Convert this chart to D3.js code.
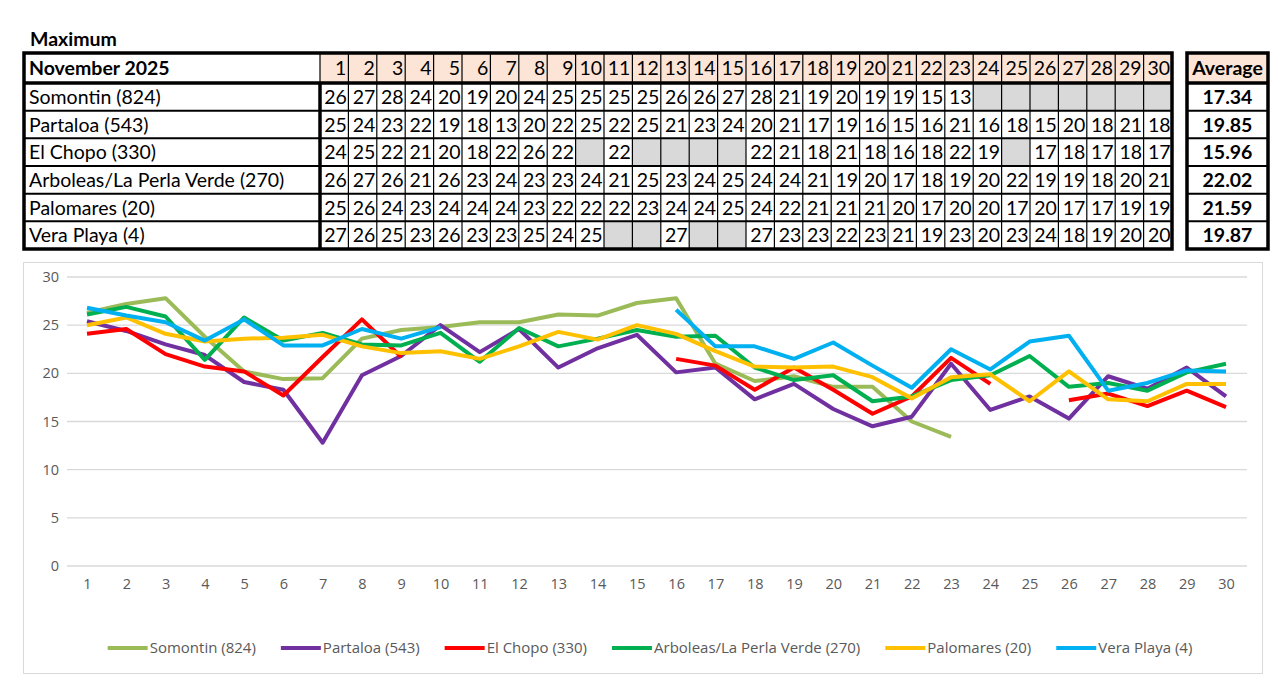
<!DOCTYPE html>
<html><head><meta charset="utf-8">
<script src="https://cdn.jsdelivr.net/npm/d3@7"></script>
<style>body{margin:0;background:#fff}svg{display:block}</style>
</head><body>
<svg id="c" width="1280" height="695"></svg>
<script>
const title = "Maximum";
const monthLabel = "November 2025";
const days = d3.range(1, 31);
const stations = ["Somontin (824)", "Partaloa (543)", "El Chopo (330)", "Arboleas/La Perla Verde (270)", "Palomares (20)", "Vera Playa (4)"];
const colors = ["#9BBB59", "#7030A0", "#FF0000", "#00B050", "#FFC000", "#00B0F0"];
const averages = ["17.34", "19.85", "15.96", "22.02", "21.59", "19.87"];
const yTicks = [0, 5, 10, 15, 20, 25, 30];
const N = null;
const somontin = [26.3,27.2,27.8,23.8,20.2,19.4,19.5,23.6,24.5,24.8,25.3,25.3,26.1,26.0,27.3,27.8,21.0,19.2,19.7,18.6,18.6,15.0,13.4,N,N,N,N,N,N,N];
const partaloa = [25.4,24.4,23.0,21.9,19.1,18.3,12.8,19.8,21.8,25.0,22.2,24.6,20.6,22.6,24.0,20.1,20.6,17.3,18.9,16.3,14.5,15.5,21.0,16.2,17.6,15.3,19.7,18.4,20.6,17.6];
const elChopo = [24.1,24.6,22.0,20.7,20.2,17.7,21.7,25.6,21.7,N,22.0,N,N,N,N,21.5,20.8,18.3,20.6,18.3,15.8,17.6,21.6,18.9,N,17.2,17.9,16.6,18.2,16.5];
const arboleas = [26.1,26.9,25.9,21.4,25.8,23.4,24.2,23.0,22.9,24.2,21.2,24.7,22.8,23.6,24.5,23.8,23.9,20.6,19.3,19.8,17.1,17.6,19.3,19.8,21.8,18.6,19.0,18.2,20.1,21.0];
const palomares = [25.0,25.8,24.1,23.3,23.6,23.7,24.0,22.8,22.1,22.3,21.5,22.8,24.3,23.5,25.0,24.1,22.3,20.7,20.6,20.7,19.6,17.4,19.6,19.9,17.1,20.2,17.3,17.1,18.9,18.9];
const veraPlaya = [26.8,26.0,25.3,23.4,25.6,22.9,22.9,24.6,23.6,24.8,N,N,27.0,N,N,26.6,22.8,22.8,21.5,23.2,20.8,18.5,22.5,20.4,23.3,23.9,18.2,19.0,20.3,20.2];
const series = [somontin, partaloa, elChopo, arboleas, palomares, veraPlaya];

const svg = d3.select("#c");
const FONT = "Lato, 'Open Sans', sans-serif";
const FS = 19.5;

// ---------- TABLE ----------
const T = {x0: 24, x1: 1172, y0: 53, yh: 83, y1: 249, xc: 320};
svg.append("text").attr("x", 30).attr("y", 46).attr("font-family", FONT).attr("font-weight", 700)
  .attr("font-size", FS).text(title);

const colX = d3.scaleBand().domain(days).range([T.xc, T.x1]);
const rowY = d3.scaleBand().domain(stations).range([T.yh, T.y1]);
const tg = svg.append("g");

tg.selectAll("rect.h").data(days).join("rect")
  .attr("x", d => colX(d)).attr("y", T.y0).attr("width", colX.bandwidth()).attr("height", T.yh - T.y0)
  .attr("fill", "#FCE4D6");
stations.forEach((s, i) => {
  tg.selectAll(null).data(days.filter((d, j) => series[i][j] === null)).join("rect")
    .attr("x", d => colX(d)).attr("y", rowY(s)).attr("width", colX.bandwidth()).attr("height", rowY.bandwidth())
    .attr("fill", "#D9D9D9");
});
tg.selectAll("line.v").data(days.slice(1)).join("line")
  .attr("x1", d => colX(d)).attr("x2", d => colX(d)).attr("y1", T.y0).attr("y2", T.y1)
  .attr("stroke", "#000").attr("stroke-width", 1.2);
tg.selectAll("line.r").data(stations.slice(1)).join("line")
  .attr("x1", T.x0).attr("x2", T.x1).attr("y1", d => rowY(d)).attr("y2", d => rowY(d))
  .attr("stroke", "#000").attr("stroke-width", 2);
tg.append("line").attr("x1", T.x0).attr("x2", T.x1).attr("y1", T.yh).attr("y2", T.yh).attr("stroke", "#000").attr("stroke-width", 3.5);
tg.append("line").attr("x1", T.xc).attr("x2", T.xc).attr("y1", T.y0).attr("y2", T.yh).attr("stroke", "#000").attr("stroke-width", 1.2);
tg.append("line").attr("x1", T.xc).attr("x2", T.xc).attr("y1", T.yh).attr("y2", T.y1).attr("stroke", "#000").attr("stroke-width", 3.5);
tg.append("rect").attr("x", T.x0).attr("y", T.y0).attr("width", T.x1 - T.x0).attr("height", T.y1 - T.y0)
  .attr("fill", "none").attr("stroke", "#000").attr("stroke-width", 3.5);

tg.append("text").attr("x", T.x0 + 5).attr("y", (T.y0 + T.yh) / 2 + 7).attr("font-family", FONT)
  .attr("font-weight", 700).attr("font-size", FS).text(monthLabel);
tg.selectAll("text.d").data(days).join("text")
  .attr("x", d => colX(d) + colX.bandwidth() - 2).attr("y", (T.y0 + T.yh) / 2 + 7)
  .attr("text-anchor", "end").attr("font-family", FONT).attr("font-size", FS).text(d => d);
stations.forEach((s, i) => {
  const cy = rowY(s) + rowY.bandwidth() / 2 + 7;
  tg.append("text").attr("x", T.x0 + 5).attr("y", cy).attr("font-family", FONT).attr("font-size", FS).text(s);
  tg.selectAll(null).data(days.filter((d, j) => series[i][j] !== null)).join("text")
    .attr("x", d => colX(d) + colX.bandwidth() - 1.5).attr("y", cy)
    .attr("text-anchor", "end").attr("font-family", FONT).attr("font-size", FS)
    .text(d => Math.round(series[i][d - 1]));
});

// Average box
const A = {x0: 1187, x1: 1268};
const ag = svg.append("g");
ag.append("rect").attr("x", A.x0).attr("y", T.y0).attr("width", A.x1 - A.x0).attr("height", T.yh - T.y0).attr("fill", "#FCE4D6");
ag.selectAll("line.r").data(stations.slice(1)).join("line")
  .attr("x1", A.x0).attr("x2", A.x1).attr("y1", d => rowY(d)).attr("y2", d => rowY(d))
  .attr("stroke", "#000").attr("stroke-width", 2);
ag.append("line").attr("x1", A.x0).attr("x2", A.x1).attr("y1", T.yh).attr("y2", T.yh).attr("stroke", "#000").attr("stroke-width", 3.5);
ag.append("rect").attr("x", A.x0).attr("y", T.y0).attr("width", A.x1 - A.x0).attr("height", T.y1 - T.y0)
  .attr("fill", "none").attr("stroke", "#000").attr("stroke-width", 3.5);
ag.append("text").attr("x", (A.x0 + A.x1) / 2).attr("y", (T.y0 + T.yh) / 2 + 7).attr("text-anchor", "middle")
  .attr("font-family", FONT).attr("font-weight", 700).attr("font-size", FS).text("Average");
ag.selectAll("text.v").data(stations).join("text")
  .attr("x", (A.x0 + A.x1) / 2).attr("y", d => rowY(d) + rowY.bandwidth() / 2 + 7).attr("text-anchor", "middle")
  .attr("font-family", FONT).attr("font-weight", 700).attr("font-size", FS).text((d, i) => averages[i]);

// ---------- CHART ----------
svg.append("rect").attr("x", 23.5).attr("y", 262.5).attr("width", 1239).attr("height", 411)
  .attr("fill", "#fff").attr("stroke", "#D9D9D9").attr("stroke-width", 1);

const x = d3.scalePoint().domain(days).range([87, 1226]);
const y = d3.scaleLinear().domain([0, 30]).range([566, 277]);
const cg = svg.append("g");
cg.selectAll("line.g").data(yTicks).join("line")
  .attr("x1", 67).attr("x2", 1247).attr("y1", d => y(d)).attr("y2", d => y(d))
  .attr("stroke", "#D9D9D9").attr("stroke-width", 1.3);

const yAxis = d3.axisLeft(y).tickValues(yTicks).tickSize(0).tickPadding(0);
const ya = cg.append("g").attr("transform", "translate(59,0)").call(yAxis);
ya.select(".domain").remove();
ya.selectAll("text").attr("font-family", "'Open Sans', sans-serif").attr("font-size", 14.5).attr("fill", "#595959");

const xAxis = d3.axisBottom(x).tickSize(0).tickPadding(0);
const xa = cg.append("g").attr("transform", "translate(0,579)").call(xAxis);
xa.select(".domain").remove();
xa.selectAll("text").attr("font-family", "'Open Sans', sans-serif").attr("font-size", 14.5).attr("fill", "#595959");

const line = d3.line().defined(d => d.v !== null).x(d => x(d.day)).y(d => y(d.v));
series.forEach((s, i) => {
  cg.append("path").datum(days.map((d, j) => ({day: d, v: s[j]})))
    .attr("d", line).attr("fill", "none").attr("stroke", colors[i]).attr("stroke-width", 4)
    .attr("stroke-linejoin", "round");
});

// legend
const lg = svg.append("g").attr("transform", "translate(0,648)");
const items = lg.selectAll("g").data(stations).join("g");
items.append("line").attr("x1", 0).attr("x2", 40).attr("stroke", (d, i) => colors[i]).attr("stroke-width", 4);
items.append("text").attr("x", 42).attr("y", 5).attr("font-family", "'Open Sans', sans-serif").attr("font-size", 15)
  .attr("fill", "#595959").text(d => d);
let widths = [];
items.each(function() { widths.push(d3.select(this).select("text").node().getComputedTextLength() + 42); });
const gap = 25;
const total = d3.sum(widths) + gap * (widths.length - 1);
let cx = 650 - total / 2;
items.attr("transform", (d, i) => { const t = `translate(${cx},0)`; cx += widths[i] + gap; return t; });
</script>
</body></html>
